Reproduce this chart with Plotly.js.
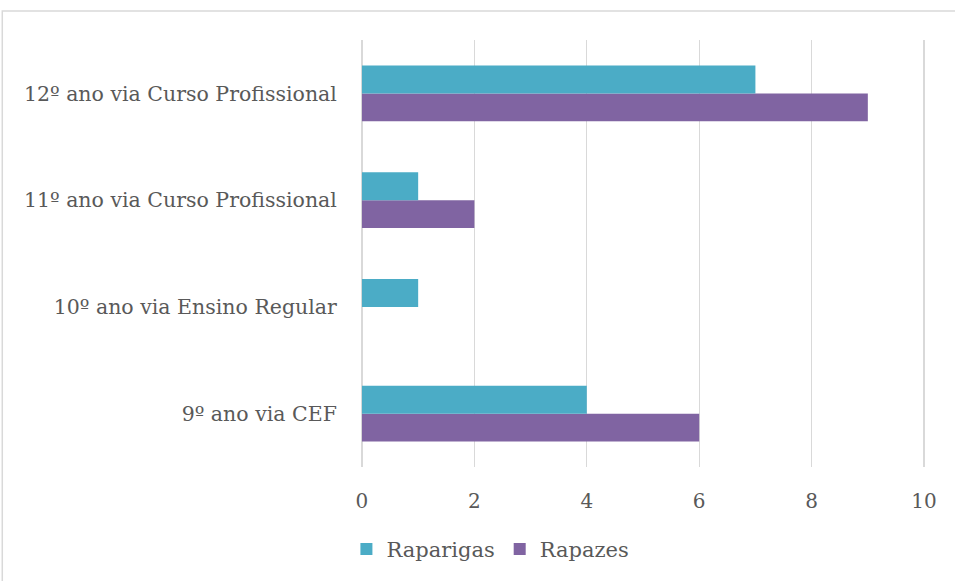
<!DOCTYPE html>
<html>
<head>
<meta charset="utf-8">
<script src="https://cdn.plot.ly/plotly-3.0.1.min.js"></script>
<style>html,body{margin:0;padding:0;background:#fff;}#chart{width:955px;height:581px;}</style>
</head>
<body>
<div id="chart"></div>
<script>
const categories = ["9º ano via CEF", "10º ano via Ensino Regular", "11º ano via Curso Profissional", "12º ano via Curso Profissional"];
const raparigas = [4, 1, 1, 7];
const rapazes = [6, 0, 2, 9];
const xTicks = [0, 2, 4, 6, 8, 10];

const font = {family: "DejaVu Serif, Liberation Serif, serif", size: 20, color: "#595959"};
const catFont = {family: "DejaVu Serif, Liberation Serif, serif", size: 20.5, color: "#595959"};
const legFont = {family: "DejaVu Serif, Liberation Serif, serif", size: 21, color: "#595959"};

const traces = [
  {type: "bar", orientation: "h", name: "Rapazes", y: categories, x: rapazes,
   marker: {color: "#8064A2"}, hoverinfo: "x+name"},
  {type: "bar", orientation: "h", name: "Raparigas", y: categories, x: raparigas,
   marker: {color: "#4BACC6"}, hoverinfo: "x+name"}
];

const layout = {
  width: 955, height: 581,
  margin: {l: 360, r: 29, t: 40, b: 113},
  paper_bgcolor: "#fff", plot_bgcolor: "#fff",
  font: font,
  barmode: "group",
  bargap: 0.48, bargroupgap: 0,
  showlegend: true,
  legend: {orientation: "h", traceorder: "reversed", x: -0.024, xanchor: "left", y: -0.19, yanchor: "middle",
           font: legFont, itemwidth: 30},
  xaxis: {range: [-0.035, 10.035], tickvals: xTicks, showgrid: true, gridcolor: "#D9D9D9", gridwidth: 1.3,
          zeroline: false, showline: false, ticks: "outside", ticklen: 16, tickcolor: "rgba(0,0,0,0)",
          tickfont: font, fixedrange: true},
  yaxis: {categoryorder: "array", categoryarray: categories, showgrid: false, zeroline: false,
          showline: false, ticks: "outside", ticklen: 18, tickcolor: "rgba(0,0,0,0)", tickfont: catFont,
          fixedrange: true},
  shapes: [{type: "rect", xref: "paper", yref: "paper", x0: -0.632, x1: 1.2, y0: -0.3, y1: 1.068,
            line: {color: "#D9D9D9", width: 1.5}, fillcolor: "rgba(0,0,0,0)", layer: "below"}]
};

Plotly.newPlot("chart", traces, layout, {displayModeBar: false, staticPlot: true});
</script>
</body>
</html>
